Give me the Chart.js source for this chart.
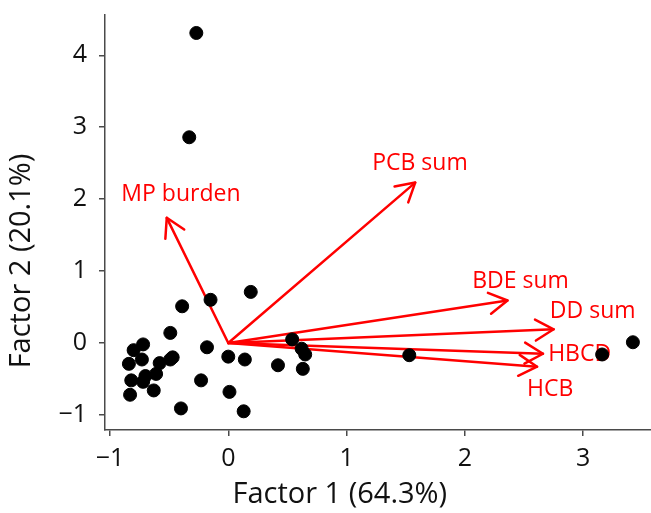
<!DOCTYPE html>
<html>
<head>
<meta charset="utf-8">
<script src="https://cdn.jsdelivr.net/npm/chart.js@4"></script>
<style>
  html, body { margin: 0; padding: 0; background: #fff; }
  #wrap { width: 651px; height: 513px; position: relative; }
</style>
</head>
<body>
<div id="wrap"><canvas id="c"></canvas></div>
<script>
// Sample scores (Factor 1, Factor 2)
const scoreX = [-0.27, -0.33, -0.39, -0.15, 0.19, -0.49, -0.72, -0.80, -0.84, -0.73, -0.58, -0.47, -0.49, -0.18, 0.00, 0.14, 0.42, 0.54, 0.62, 0.65, 0.63, 1.53, -0.82, -0.70, -0.72, -0.61, -0.63, -0.83, -0.23, 0.01, -0.40, 0.13, 3.16, 3.42];
const scoreY = [4.31, 2.86, 0.51, 0.60, 0.71, 0.14, -0.02, -0.10, -0.29, -0.23, -0.28, -0.20, -0.23, -0.06, -0.19, -0.23, -0.31, 0.05, -0.08, -0.16, -0.36, -0.17, -0.52, -0.46, -0.54, -0.43, -0.66, -0.72, -0.52, -0.68, -0.91, -0.95, -0.16, 0.01];

// Variable loadings (arrows)
const varNames = ["MP burden", "PCB sum", "BDE sum", "DD sum", "HBCD", "HCB"];
const loadX = [-0.52, 1.58, 2.36, 2.75, 2.66, 2.61];
const loadY = [1.74, 2.23, 0.59, 0.19, -0.15, -0.33];
// label anchor positions (data units)
const labelX = [-0.40, 1.62, 2.47, 3.08, 2.97, 2.72];
const labelY = [2.07, 2.50, 0.85, 0.44, -0.16, -0.64];

const xTicks = [-1, 0, 1, 2, 3];
const yTicks = [-1, 0, 1, 2, 3, 4];
const xTitle = "Factor 1 (64.3%)";
const yTitle = "Factor 2 (20.1%)";

const FONT = "'Open Sans', 'DejaVu Sans', sans-serif";
const RED = "#ff0000";
const AXIS = "#4a4a4a";

const points = scoreX.map((x, i) => ({ x: x, y: scoreY[i] }));

const biplot = {
  id: 'biplot',
  beforeDatasetsDraw(chart) {
    const { ctx, scales: { x, y } } = chart;
    const ox = x.getPixelForValue(0), oy = y.getPixelForValue(0);
    ctx.save();
    ctx.strokeStyle = RED;
    ctx.lineWidth = 2.5;
    ctx.lineCap = 'round';
    ctx.lineJoin = 'round';
    for (let i = 0; i < varNames.length; i++) {
      const tx = x.getPixelForValue(loadX[i]), ty = y.getPixelForValue(loadY[i]);
      ctx.beginPath();
      ctx.moveTo(ox, oy);
      ctx.lineTo(tx, ty);
      ctx.stroke();
      const ang = Math.atan2(ty - oy, tx - ox);
      const L = 21, a = Math.PI / 6;
      ctx.beginPath();
      ctx.moveTo(tx - L * Math.cos(ang - a), ty - L * Math.sin(ang - a));
      ctx.lineTo(tx, ty);
      ctx.lineTo(tx - L * Math.cos(ang + a), ty - L * Math.sin(ang + a));
      ctx.stroke();
    }
    ctx.fillStyle = RED;
    ctx.font = "23px " + FONT;
    ctx.textAlign = 'center';
    ctx.textBaseline = 'middle';
    for (let i = 0; i < varNames.length; i++) {
      ctx.fillText(varNames[i], x.getPixelForValue(labelX[i]), y.getPixelForValue(labelY[i]));
    }
    ctx.restore();
  },
  afterDraw(chart) {
    const { ctx, chartArea } = chart;
    ctx.save();
    ctx.fillStyle = '#111';
    ctx.font = "29px " + FONT;
    ctx.textAlign = 'center';
    ctx.textBaseline = 'middle';
    ctx.fillText(xTitle, chartArea.left + 0.43 * (chartArea.right - chartArea.left), 495);
    ctx.translate(22, 261);
    ctx.rotate(-Math.PI / 2);
    ctx.fillText(yTitle, 0, 0);
    ctx.restore();
  }
};

new Chart(document.getElementById('c'), {
  type: 'scatter',
  data: {
    datasets: [{
      data: points,
      backgroundColor: '#000',
      borderColor: '#000',
      pointRadius: 6.5,
      pointHoverRadius: 6.5
    }]
  },
  options: {
    responsive: true,
    maintainAspectRatio: false,
    animation: false,
    layout: { autoPadding: false, padding: { top: 15, right: 0, left: 0, bottom: 0 } },
    plugins: { legend: { display: false }, tooltip: { enabled: false } },
    scales: {
      x: {
        type: 'linear',
        min: -1.042, max: 3.573,
        afterFit(s) { s.height = 83; s.paddingLeft = 0; s.paddingRight = 0; },
        afterBuildTicks(s) { s.ticks = xTicks.map(v => ({ value: v })); },
        grid: { drawOnChartArea: false, drawTicks: true, tickLength: 6, color: AXIS, lineWidth: 1.5 },
        border: { display: true, color: AXIS, width: 1.5 },
        ticks: {
          color: '#111', padding: 8,
          font: { family: FONT, size: 25 },
          callback: v => String(v).replace('-', '\u2212')
        }
      },
      y: {
        type: 'linear',
        min: -1.21, max: 4.56,
        afterFit(s) { s.width = 105; s.paddingTop = 0; s.paddingBottom = 0; },
        afterBuildTicks(s) { s.ticks = yTicks.map(v => ({ value: v })); },
        grid: { drawOnChartArea: false, drawTicks: true, tickLength: 6, color: AXIS, lineWidth: 1.5 },
        border: { display: true, color: AXIS, width: 1.5 },
        ticks: {
          color: '#111', padding: 12,
          font: { family: FONT, size: 25 },
          callback: v => String(v).replace('-', '\u2212')
        }
      }
    }
  },
  plugins: [biplot]
});
</script>
</body>
</html>
